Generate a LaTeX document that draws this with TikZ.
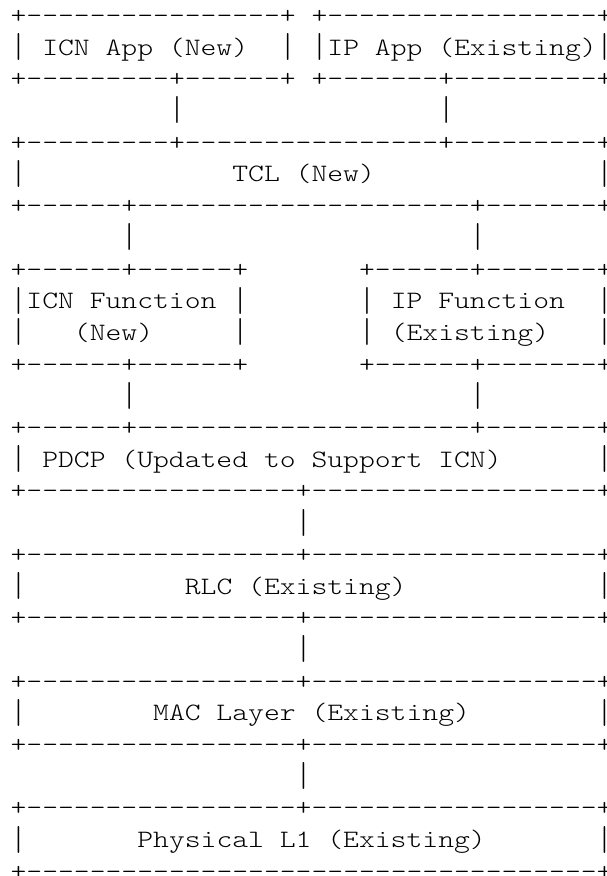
\documentclass[tikz,border=0pt]{standalone}
\usepackage{graphicx}
\usepackage{fontspec}
\newfontfamily\asciifont{lmmonolt10-regular.otf}
\newcommand\Dsh[1]{\foreach\k in {1,...,#1}{-\kern0pt}}
\newcommand\Sp[1]{\kern#1\fontdimen2\font\relax}
\newcommand\B{\raisebox{-5.3pt}{\resizebox*{\width}{27pt}{\raisebox{\depth}{|}}}}
\tikzset{
  asciirow/.style={anchor=base west, inner sep=0pt, outer sep=0pt,
    font=\fontsize{25}{30}\selectfont\asciifont\frenchspacing, text=black},
}
\newcommand\Row[2]{\node[asciirow] (r#1) at (10.6,{876-(23.5+(#1-1)*31.7)}) {\scalebox{1.2069}[1]{#2}};}
\begin{document}
\begin{tikzpicture}[x=1pt,y=1pt]
\fill[white] (0,0) rectangle (606,876);
\useasboundingbox (0,0) rectangle (606,876);
\Row{1}{+\Dsh{16}+\Sp{1}+\Dsh{17}+}
\Row{2}{\B\Sp{1}ICN App (New)\Sp{2}\B\Sp{1}\B IP App (Existing)\B}
\Row{3}{+\Dsh{9}+\Dsh{6}+\Sp{1}+\Dsh{7}+\Dsh{9}+}
\Row{4}{\Sp{10}\B\Sp{16}\B}
\Row{5}{+\Dsh{9}+\Dsh{16}+\Dsh{9}+}
\Row{6}{\B\Sp{13}TCL (New)\Sp{14}\B}
\Row{7}{+\Dsh{6}+\Dsh{21}+\Dsh{7}+}
\Row{8}{\Sp{7}\B\Sp{21}\B}
\Row{9}{+\Dsh{6}+\Dsh{6}+\Sp{7}+\Dsh{6}+\Dsh{7}+}
\Row{10}{\B ICN Function\Sp{1}\B\Sp{7}\B\Sp{1}IP Function\Sp{2}\B}
\Row{11}{\B\Sp{3}(New)\Sp{5}\B\Sp{7}\B\Sp{1}(Existing)\Sp{3}\B}
\Row{12}{+\Dsh{6}+\Dsh{6}+\Sp{7}+\Dsh{6}+\Dsh{7}+}
\Row{13}{\Sp{7}\B\Sp{21}\B}
\Row{14}{+\Dsh{6}+\Dsh{21}+\Dsh{7}+}
\Row{15}{\B\Sp{1}PDCP (Updated to Support ICN)\Sp{6}\B}
\Row{16}{+\Dsh{17}+\Dsh{18}+}
\Row{17}{\Sp{18}\B}
\Row{18}{+\Dsh{17}+\Dsh{18}+}
\Row{19}{\B\Sp{10}RLC (Existing)\Sp{12}\B}
\Row{20}{+\Dsh{17}+\Dsh{18}+}
\Row{21}{\Sp{18}\B}
\Row{22}{+\Dsh{17}+\Dsh{18}+}
\Row{23}{\B\Sp{8}MAC Layer (Existing)\Sp{8}\B}
\Row{24}{+\Dsh{17}+\Dsh{18}+}
\Row{25}{\Sp{18}\B}
\Row{26}{+\Dsh{17}+\Dsh{18}+}
\Row{27}{\B\Sp{7}Physical L1 (Existing)\Sp{7}\B}
\Row{28}{+\Dsh{36}+}
\end{tikzpicture}
\end{document}
